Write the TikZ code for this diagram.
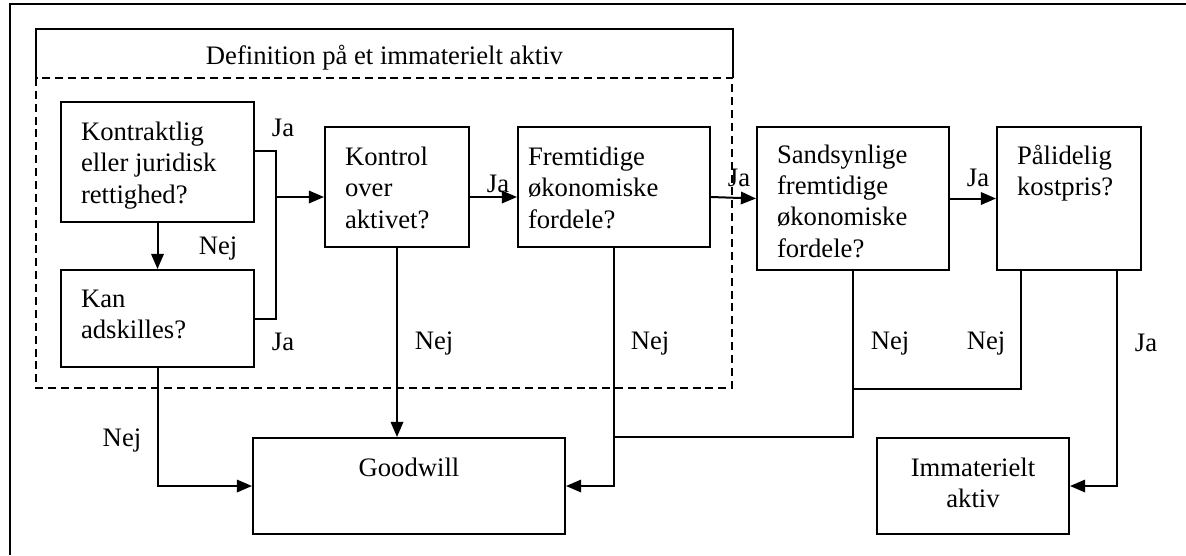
\documentclass[tikz,border=0pt]{standalone}
\usepackage{fontspec}
\setmainfont{Liberation Serif}
\usepackage{tikz}
\usetikzlibrary{arrows.meta}
\usetikzlibrary{calc}
\tikzset{ question_box/.style = {rectangle, draw, line width=0.9pt, anchor=north west, inner xsep=9pt, inner ysep=9pt} }
\tikzset{ answer/.style = {inner sep=0pt} }
\tikzset{ flow/.style = {line width=0.9pt, -{Triangle[length=6.8pt,width=5.6pt]}} }
\tikzset{ plain_line/.style = {line width=0.9pt} }
\newcommand{\qtext}[3]{\parbox[t][#2][t]{#1}{\raggedright #3}}
\newcommand{\ctext}[3]{\parbox[t][#2][t]{#1}{\centering #3}}

\begin{document}
\begin{tikzpicture}[x=0.45pt, y=-0.45pt, every node/.style={font=\fontsize{12}{14.1}\selectfont}]
        \useasboundingbox (0,0) rectangle (1186,555);
        \draw[line width=1.1pt] (10,555) -- (10,4) -- (1186,4);
        % definition frame
        \node[anchor=north west, minimum width=313.2pt, minimum height=21.6pt, inner sep=0pt, text height=10.2pt, text depth=0pt] (def_title) at (36,29) {Definition på et immaterielt aktiv};
        \coordinate (def_corner) at (732,388);
        \draw[plain_line] (def_title.south west) |- (def_title.north east) -- (def_title.south east);
        \draw[plain_line, dash pattern=on 3.6pt off 2.2pt] (def_title.south west) rectangle (def_corner);
        % questions
        \node[question_box] (kontrakt) at (60,101) {\qtext{68.85pt}{36pt}{Kontraktlig\\eller juridisk\\rettighed?}};
        \node[question_box] (adskil) at (60,269) {\qtext{68.85pt}{25.65pt}{Kan\\adskilles?}};
        \node[question_box] (kontrol) at (324,126) {\qtext{46.8pt}{36pt}{Kontrol\\over\\aktivet?}};
        \node[question_box, inner xsep=4.5pt] (fremtid) at (517,126) {\qtext{77.4pt}{36pt}{Fremtidige\\økonomiske\\fordele?}};
        \node[question_box, inner ysep=8pt] (sandsyn) at (756,126) {\qtext{68.4pt}{48.35pt}{Sandsynlige\\fremtidige\\økonomiske\\fordele?}};
        \node[question_box, inner ysep=8pt] (kostpris) at (996,126) {\qtext{46.8pt}{48.35pt}{Pålidelig\\kostpris?}};
        % results
        \node[question_box] (goodwill) at (252,437) {\ctext{122.4pt}{25.2pt}{Goodwill}};
        \node[question_box] (immat) at (876,437) {\ctext{68.4pt}{25.2pt}{Immaterielt\\aktiv}};
        % yes path
        \coordinate (split) at (276,197);
        \draw[plain_line] ([yshift=4.95pt]kontrakt.east) -| (split);
        \draw[plain_line] (adskil.east) -| (split);
        \draw[flow] (split) -- (split -| kontrol.west);
        \draw[flow] (kontrol.east |- split) -- (fremtid.west |- split);
        \draw[flow] (fremtid.east |- split) -- (sandsyn.west);
        \draw[flow] (sandsyn.east) -- (kostpris.west);
        \draw[flow] (kontrakt.south) -- (adskil.north);
        % no path
        \draw[flow] (adskil.south) |- (goodwill.west);
        \draw[flow] (kontrol.south) -- (kontrol.south |- goodwill.north);
        \draw[flow] (fremtid.south) |- (goodwill.east);
        \draw[plain_line] (sandsyn.south) |- (fremtid.south |- goodwill.north);
        \coordinate (merge) at (852,389);
        \draw[plain_line] ([xshift=-21.6pt]kostpris.south) |- (merge);
        \draw[flow] ([xshift=21.6pt]kostpris.south) |- (immat.east);
        % labels
        \node[answer] (ja_a) at (283,128) {Ja};
        \node[answer] (ja_b) at (283,342) {Ja};
        \node[answer] (nej_a) at (218,248) {Nej};
        \node[answer] (ja_c) at (498,184) {Ja};
        \node[answer] (ja_d) at (739,178) {Ja};
        \node[answer] (ja_e) at (978,178) {Ja};
        \node[answer] (nej_b) at (122,440) {Nej};
        \node[answer] (nej_c) at (434,343) {Nej};
        \node[answer] (nej_d) at (650,343) {Nej};
        \node[answer] (nej_e) at (890,343) {Nej};
        \node[answer] (nej_f) at (986,343) {Nej};
        \node[answer] (ja_f) at (1146,343) {Ja};
\end{tikzpicture}
\end{document}
